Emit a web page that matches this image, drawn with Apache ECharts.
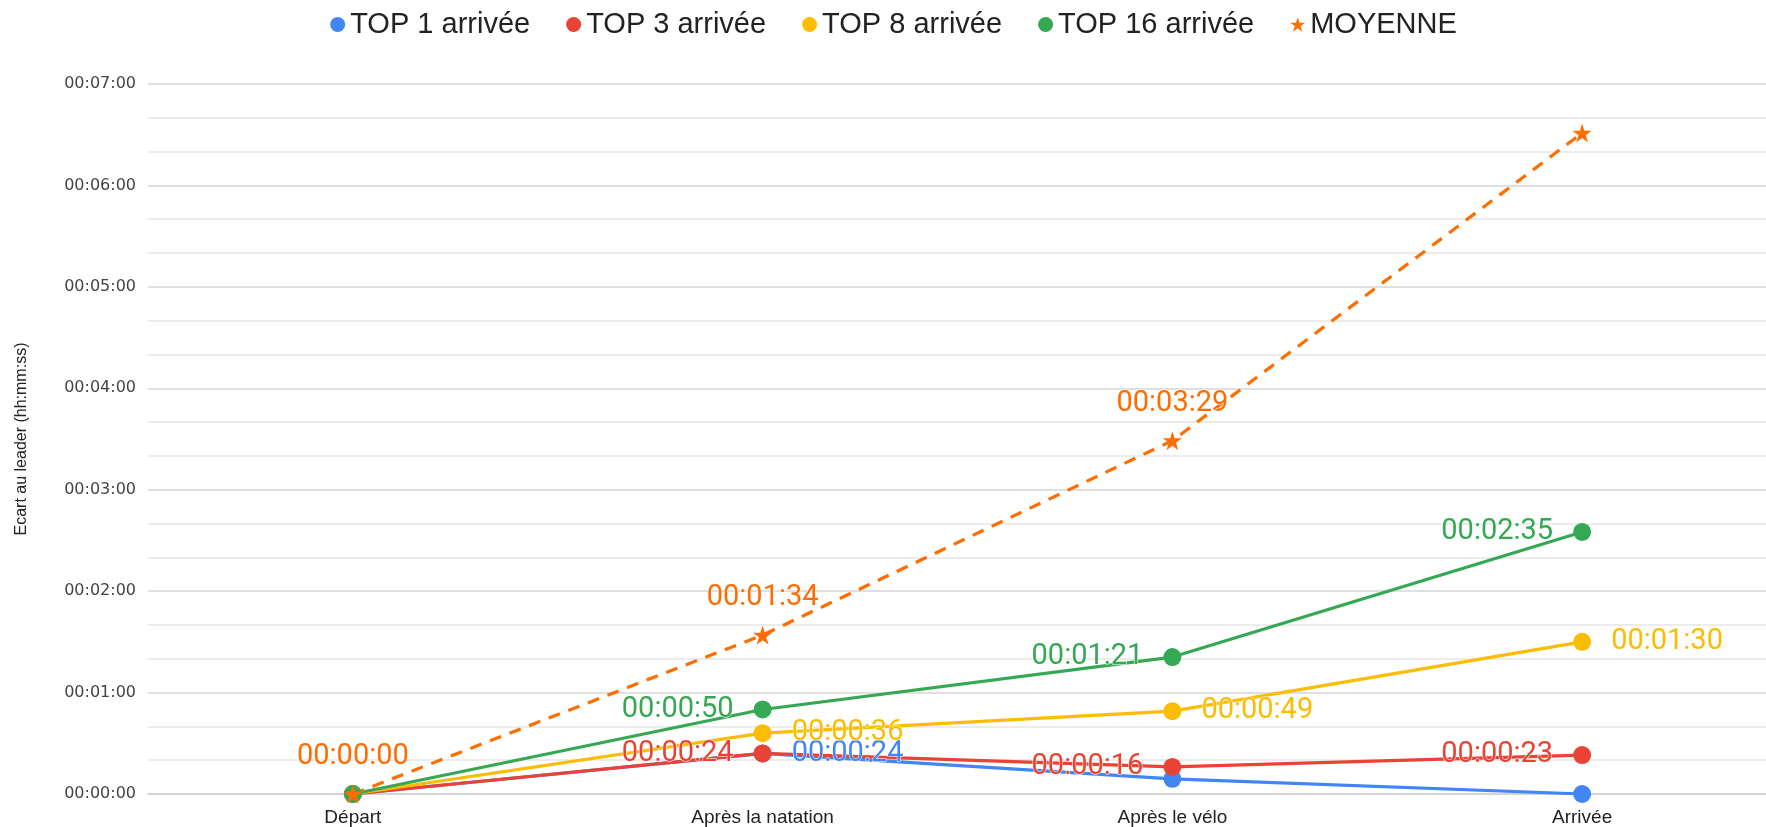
<!DOCTYPE html>
<html>
<head>
<meta charset="utf-8">
<title>Ecart au leader</title>
<script src="https://cdn.jsdelivr.net/npm/echarts@6.0.0/dist/echarts.min.js"></script>
<style>
    html, body { margin: 0; padding: 0; background: #fff; overflow: hidden; }
    /* la grille déborde un peu à droite, comme sur l'original */
    #lineChart { width: 1787px; height: 827px; }
</style>
</head>
<body>
<div id="lineChart"></div>
<script>
// étapes de la course
var categories = ['Départ', 'Après la natation', 'Après le vélo', 'Arrivée'];

// écart au leader, en secondes
var top1 = [0, 24, 9, 0];
var top3 = [0, 24, 16, 23];
var top8 = [0, 36, 49, 90];
var top16 = [0, 50, 81, 155];
var moyenne = [0, 94, 209, 391];

// axe Y : 00:00:00 -> 00:07:00, une graduation par minute
var yMin = 0;
var yMax = 420;
var yStep = 60;

var starIcon = 'path://M50,2 L61,36 L97,36 L68,57 L79,92 L50,71 L21,92 L32,57 L3,36 L39,36 Z';

function hms(sec) {
    var h = Math.floor(sec / 3600);
    var m = Math.floor((sec % 3600) / 60);
    var s = Math.round(sec % 60);
    return [h, m, s].map(function (v) { return (v < 10 ? '0' : '') + v; }).join(':');
}

// points qui portent une étiquette
function withLabels(values, shown) {
    return values.map(function (v, i) {
        return { value: v, label: { show: shown.indexOf(i) >= 0 } };
    });
}

function makeSeries(name, values, color, shown, pos, extra) {
    var s = {
        name: name,
        type: 'line',
        data: withLabels(values, shown),
        symbol: 'circle',
        symbolSize: 18,
        color: color,
        lineStyle: { width: 3.2, color: color },
        itemStyle: { color: color },
        label: {
            position: pos,
            distance: 20,
            formatter: function (p) { return hms(p.value); },
            color: color,
            fontFamily: 'Roboto',
            fontSize: 29,
            textBorderColor: '#fff',
            textBorderWidth: 1
        },
        animation: false
    };
    return Object.assign(s, extra || {});
}

var chart = echarts.init(document.getElementById('lineChart'));

chart.setOption({
    backgroundColor: '#fff',
    legend: {
        top: 5,
        left: 'center',
        itemWidth: 15,
        itemHeight: 15,
        itemGap: 36,
        textStyle: { fontFamily: 'Liberation Sans', fontSize: 29, color: '#222' },
        data: [
            { name: 'TOP 1 arrivée', icon: 'circle' },
            { name: 'TOP 3 arrivée', icon: 'circle' },
            { name: 'TOP 8 arrivée', icon: 'circle' },
            { name: 'TOP 16 arrivée', icon: 'circle' },
            { name: 'MOYENNE', icon: starIcon }
        ]
    },
    grid: {
        left: 148,
        right: 0,
        top: 84,
        bottom: 33
    },
    xAxis: {
        type: 'category',
        data: categories,
        boundaryGap: true,
        axisTick: { show: false },
        axisLine: { lineStyle: { color: '#cfcfcf', width: 1.5 } },
        axisLabel: {
            margin: 14,
            fontFamily: 'Liberation Sans',
            fontSize: 19,
            color: '#222'
        }
    },
    yAxis: {
        type: 'value',
        min: yMin,
        max: yMax,
        interval: yStep,
        name: 'Ecart au leader (hh:mm:ss)',
        nameLocation: 'middle',
        nameGap: 118,
        nameRotate: 90,
        nameTextStyle: { fontFamily: 'Liberation Sans', fontSize: 16, color: '#222' },
        axisLine: { show: false },
        axisTick: { show: false },
        axisLabel: {
            margin: 12,
            fontFamily: 'DejaVu Sans',
            fontSize: 16,
            color: '#444',
            formatter: function (v) { return hms(v); }
        },
        splitLine: { lineStyle: { color: '#d6d6d6', width: 1.5 } },
        minorTick: { show: false, splitNumber: 3 },
        minorSplitLine: { show: true, lineStyle: { color: '#e6e6e6', width: 1.5 } }
    },
    series: [
        makeSeries('TOP 1 arrivée', top1, '#4285F4', [1], 'right'),
        makeSeries('TOP 3 arrivée', top3, '#EA4335', [1, 2, 3], 'left'),
        makeSeries('TOP 8 arrivée', top8, '#FBBC04', [1, 2, 3], 'right'),
        makeSeries('TOP 16 arrivée', top16, '#34A853', [1, 2, 3], 'left'),
        makeSeries('MOYENNE', moyenne, '#FF6D01', [0, 1, 2], 'top', {
            symbol: starIcon,
            symbolSize: 19,
            lineStyle: { width: 3.2, color: '#FF6D01', type: [12, 9] },
            label: {
                position: 'top',
                distance: 13,
                formatter: function (p) { return hms(p.value); },
                color: '#FF6D01',
                fontFamily: 'Roboto',
                fontSize: 29,
                textBorderColor: '#fff',
                textBorderWidth: 1
            }
        })
    ]
});
</script>
</body>
</html>
